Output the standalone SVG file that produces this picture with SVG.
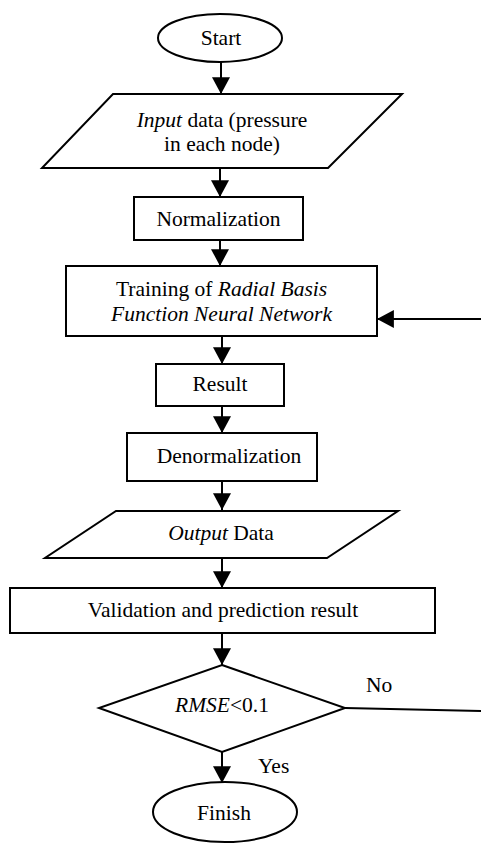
<svg xmlns="http://www.w3.org/2000/svg" width="481" height="844" viewBox="0 0 481 844">
  <style>
    .shape { fill: #ffffff; stroke: #000000; stroke-width: 2; }
    .line { fill: none; stroke: #000000; stroke-width: 2; }
    text { font-family: "Liberation Serif", "Times New Roman", serif; font-size: 21.5px; fill: #000000; }
    .mid { text-anchor: middle; }
    .it { font-style: italic; }
  </style>
  <defs>
    <marker id="arrow" markerUnits="userSpaceOnUse" markerWidth="18" markerHeight="18" viewBox="0 0 16 16" refX="15" refY="8" orient="auto">
      <path d="M0,0 L15,8 L0,16 Z" fill="#000000"/>
    </marker>
  </defs>

  <rect width="481" height="844" fill="#ffffff"/>

  <!-- connectors -->
  <g id="connectors">
    <line class="line" x1="221" y1="62" x2="221" y2="94" marker-end="url(#arrow)"/>
    <line class="line" x1="220" y1="168" x2="220" y2="197" marker-end="url(#arrow)"/>
    <line class="line" x1="220" y1="240" x2="220" y2="266" marker-end="url(#arrow)"/>
    <line class="line" x1="222" y1="336" x2="222" y2="364" marker-end="url(#arrow)"/>
    <line class="line" x1="222" y1="406" x2="222" y2="433" marker-end="url(#arrow)"/>
    <line class="line" x1="222" y1="481" x2="222" y2="510" marker-end="url(#arrow)"/>
    <line class="line" x1="222" y1="558" x2="222" y2="588" marker-end="url(#arrow)"/>
    <line class="line" x1="222" y1="633" x2="222" y2="665" marker-end="url(#arrow)"/>
    <line class="line" x1="222" y1="752" x2="222" y2="783" marker-end="url(#arrow)"/>
    <!-- loop back into training -->
    <line class="line" x1="481" y1="319" x2="377" y2="319" marker-end="url(#arrow)"/>
    <!-- "No" branch leaving the decision -->
    <line class="line" x1="345" y1="708" x2="481" y2="711"/>
    <text x="366" y="692">No</text>
    <text x="258" y="773">Yes</text>
  </g>

  <g id="start">
    <ellipse class="shape" cx="220" cy="38" rx="62" ry="24"/>
    <text class="mid" x="221" y="45">Start</text>
  </g>

  <g id="input">
    <polygon class="shape" points="113,94 402,94 328,168 42,168"/>
    <text class="mid" x="222" y="127"><tspan class="it">Input</tspan> data (pressure</text>
    <text class="mid" x="222" y="151">in each node)</text>
  </g>

  <g id="normalization">
    <rect class="shape" x="134" y="197" width="169" height="43"/>
    <text class="mid" x="218.5" y="226">Normalization</text>
  </g>

  <g id="training">
    <rect class="shape" x="66" y="266" width="311" height="70"/>
    <text class="mid" x="221.5" y="296">Training of <tspan class="it">Radial Basis</tspan></text>
    <text class="mid it" x="221.5" y="321">Function Neural Network</text>
  </g>

  <g id="result">
    <rect class="shape" x="156" y="364" width="128" height="42"/>
    <text class="mid" x="220" y="391">Result</text>
  </g>

  <g id="denormalization">
    <rect class="shape" x="127" y="433" width="190" height="48"/>
    <text class="mid" x="229" y="463">Denormalization</text>
  </g>

  <g id="output">
    <polygon class="shape" points="116,511 398,511 327,558 45,558"/>
    <text class="mid" x="221" y="540"><tspan class="it">Output</tspan> Data</text>
  </g>

  <g id="validation">
    <rect class="shape" x="10" y="588" width="425" height="45"/>
    <text class="mid" x="223" y="617">Validation and prediction result</text>
  </g>

  <g id="decision">
    <polygon class="shape" points="222,665 345,708 222,752 99,708"/>
    <text class="mid" x="222" y="712"><tspan class="it">RMSE</tspan>&lt;0.1</text>
  </g>

  <g id="finish">
    <ellipse class="shape" cx="225" cy="812" rx="72" ry="30"/>
    <text class="mid" x="224" y="820">Finish</text>
  </g>
</svg>
